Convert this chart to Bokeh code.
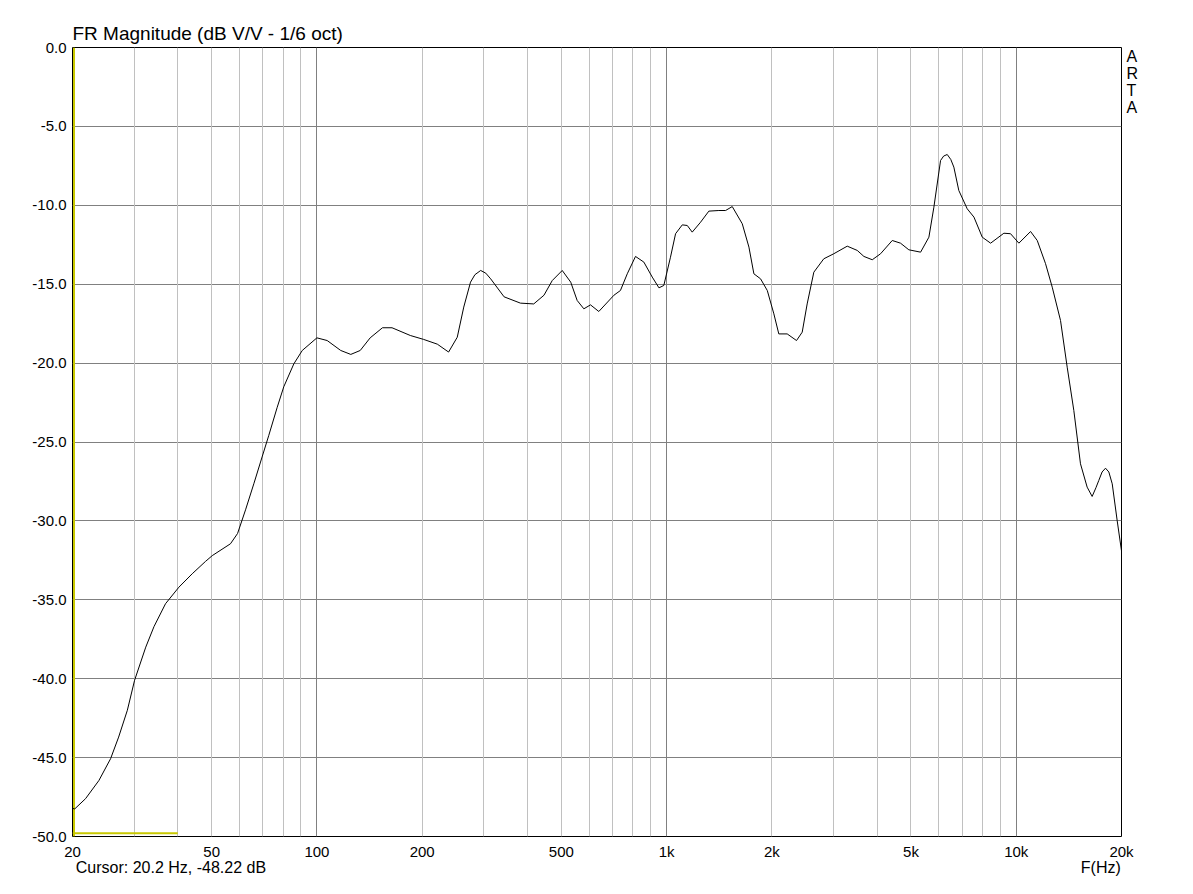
from bokeh.plotting import figure
from bokeh.models import FixedTicker, Grid, Range1d, LogAxis, LinearAxis
from bokeh.embed import file_html
from bokeh.resources import INLINE

# ---- data ----
freq_hz = [20, 20.3, 21.8, 23.8, 25.7, 27.1, 28.7, 30.1, 32.4, 34.2, 36.9, 40.3, 44.0, 48.0,
           50.2, 56.6, 59.3, 62.5, 66.0, 69.7, 72.8, 77.0, 80.4, 85.9, 90.8, 100, 107, 117,
           125, 133, 142, 154, 164, 185, 202, 221, 238, 252, 263, 275, 283, 294, 304, 314, 343, 382,
           417, 446, 471, 503, 532, 555, 580, 606, 640, 707, 738, 772, 815, 861, 910, 951,
           982, 1026, 1061, 1109, 1146, 1184, 1251, 1321, 1411, 1475, 1541, 1646, 1720, 1777,
           1857, 1941, 2027, 2094, 2213, 2353, 2443, 2524, 2637, 2816, 3008, 3286, 3510, 3667,
           3875, 4093, 4420, 4668, 4930, 5327, 5626, 5814, 6075, 6200, 6348, 6500, 6631, 6851,
           7240, 7570, 7995, 8447, 9218, 9632, 10176, 10990, 11483, 12128, 12676, 13386, 13987,
           14610, 15265, 15951, 16485, 16900, 17220, 17600, 18003, 18400, 18815, 19436, 20000]
mag_db = [-48.22, -48.25, -47.6, -46.45, -45.07, -43.7, -42.0, -40.1, -38.0, -36.7, -35.25, -34.2,
          -33.35, -32.57, -32.2, -31.45, -30.8, -29.3, -27.65, -25.95, -24.6, -22.8, -21.5, -20.05,
          -19.2, -18.4, -18.57, -19.2, -19.45, -19.2, -18.4, -17.76, -17.76, -18.25, -18.5, -18.8,
          -19.3, -18.36, -16.45, -14.87, -14.4, -14.13, -14.3, -14.66, -15.8, -16.2, -16.25, -15.7,
          -14.77, -14.13, -14.87, -16.03, -16.56, -16.31, -16.73, -15.7, -15.4, -14.34, -13.24,
          -13.6, -14.55, -15.23, -15.08, -13.29, -11.8, -11.24, -11.28, -11.7, -11.07, -10.37,
          -10.33, -10.33, -10.08, -11.17, -12.65, -14.34, -14.66, -15.4, -16.88, -18.15, -18.15,
          -18.57, -18.04, -16.25, -14.24, -13.39, -13.07, -12.59, -12.86, -13.24, -13.45, -13.07,
          -12.23, -12.4, -12.82, -12.97, -12.02, -10.12, -7.16, -6.88, -6.78, -7.1, -7.58, -9.06,
          -10.22, -10.75, -12.02, -12.4, -11.77, -11.8, -12.4, -11.66, -12.23, -13.7, -15.19,
          -17.3, -20.26, -23.0, -26.38, -27.86, -28.45, -27.9, -27.44, -26.9, -26.66, -26.9,
          -27.65, -29.97, -31.9]

x_ticks = [20, 50, 100, 200, 500, 1000, 2000, 5000, 10000, 20000]
x_tick_labels = ["20", "50", "100", "200", "500", "1k", "2k", "5k", "10k", "20k"]
y_ticks = [0, -5, -10, -15, -20, -25, -30, -35, -40, -45, -50]
y_tick_labels = ["0.0", "-5.0", "-10.0", "-15.0", "-20.0", "-25.0", "-30.0", "-35.0", "-40.0", "-45.0", "-50.0"]
grid_major_hz = [100, 1000, 10000]
grid_minor_hz = [30, 40, 50, 60, 70, 80, 90, 200, 300, 400, 500, 600, 700, 800, 900,
                 2000, 3000, 4000, 5000, 6000, 7000, 8000, 9000]
cursor_hz = [20.2]
marker_hz = [20, 40]
marker_db = [-49.8, -49.8]

title_text = "FR Magnitude (dB V/V - 1/6 oct)"
footer_texts = ["Cursor: 20.2 Hz, -48.22 dB", "F(Hz)"]
footer_hz = [38.25, 17453]          # centre of each footer text
brand_letters = ["A", "R", "T", "A"]
brand_db = [-0.57, -1.64, -2.71, -3.78]

FONT = "Liberation Sans"

p = figure(width=1177, height=878, x_axis_type="log",
           x_range=Range1d(20, 20000), y_range=Range1d(-50, 0),
           output_backend="svg", toolbar_location=None,
           min_border_left=72, min_border_right=56, min_border_top=47, min_border_bottom=42)
p.title.text = title_text
p.title.align = "left"
p.title.offset = 0
p.title.standoff = 8
p.title.text_font = FONT
p.title.text_font_size = "19px"
p.title.text_font_style = "normal"
p.title.text_color = "black"
p.background_fill_color = "white"
p.border_fill_color = "white"
p.outline_line_color = "black"
p.outline_line_width = 1
p.outline_line_alpha = 1


def style_axis(ax, standoff, size="15px"):
    ax.axis_line_color = None
    ax.major_tick_line_color = None
    ax.minor_tick_line_color = None
    ax.major_tick_out = 0
    ax.major_tick_in = 0
    ax.minor_tick_out = 0
    ax.minor_tick_in = 0
    ax.major_label_text_font = FONT
    ax.major_label_text_font_size = size
    ax.major_label_text_color = "black"
    ax.major_label_standoff = standoff


xa = p.xaxis[0]
xa.ticker = FixedTicker(ticks=x_ticks)
xa.major_label_overrides = {t: l for t, l in zip(x_ticks, x_tick_labels)}
style_axis(xa, 6)

ya = p.yaxis[0]
ya.ticker = FixedTicker(ticks=y_ticks)
ya.major_label_overrides = {t: l for t, l in zip(y_ticks, y_tick_labels)}
style_axis(ya, 6)

# footer line (cursor read-out and axis name) as a second bottom axis
fa = LogAxis(ticker=FixedTicker(ticks=footer_hz),
             major_label_overrides={t: l for t, l in zip(footer_hz, footer_texts)})
style_axis(fa, -4, size="16px")
p.add_layout(fa, "below")

# ARTA brand letters on the right
ra = LinearAxis(ticker=FixedTicker(ticks=brand_db),
                major_label_overrides={t: l for t, l in zip(brand_db, brand_letters)})
style_axis(ra, 5, size="16px")
p.add_layout(ra, "right")

# grids
p.xgrid.visible = False
p.ygrid.grid_line_color = "#808080"
p.ygrid.grid_line_alpha = 1
p.ygrid.ticker = FixedTicker(ticks=y_ticks)
p.add_layout(Grid(dimension=0, ticker=FixedTicker(ticks=grid_minor_hz),
                  grid_line_color="#c0c0c0", grid_line_width=1))
p.add_layout(Grid(dimension=0, ticker=FixedTicker(ticks=grid_major_hz),
                  grid_line_color="#808080", grid_line_width=1))

# cursor / marker lines
p.line([cursor_hz[0], cursor_hz[0]], [-50, 0], line_color="#c8c800", line_width=2)
p.line(marker_hz, marker_db, line_color="#c8c800", line_width=2)

# curve
p.line(freq_hz, mag_db, line_color="black", line_width=1)

open("out.html", "w").write(file_html(p, INLINE))
